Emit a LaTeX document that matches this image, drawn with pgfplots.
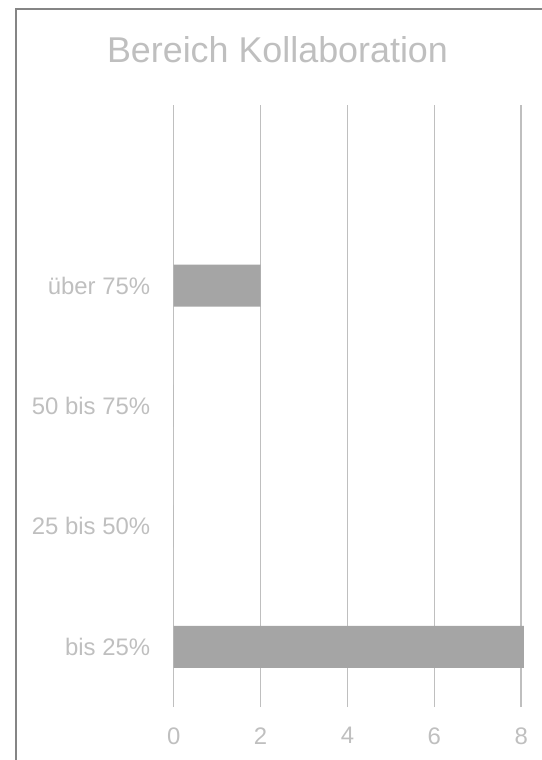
\documentclass[border=0pt]{standalone}
\usepackage{pgfplots}
\pgfplotsset{compat=1.18}
\usepackage{fontspec}
\setmainfont{Liberation Sans}
\definecolor{txt}{HTML}{BFBFBF}
\definecolor{grid}{HTML}{D9D9D9}
\definecolor{barc}{HTML}{A5A5A5}
\definecolor{frame}{HTML}{858585}
\begin{document}
\begin{tikzpicture}[x=1bp,y=1bp]
\begin{axis}[
  scale only axis,
  width=347.5bp, height=602bp,
  at={(173.7bp,53bp)}, anchor=south west,
  xbar, bar width=42bp,
  xmin=0, xmax=8, ymin=-0.5, ymax=4.5,
  xtick={0,2,4,6,8},
  ytick={0,1,2,3},
  yticklabels={bis 25\%,25 bis 50\%,50 bis 75\%,über 75\%},
  axis line style={draw=none},
  major tick length=0pt,
  xmajorgrids, major grid style={grid, line width=1.5bp},
  ymajorgrids=false,
  tick label style={font=\fontsize{24}{26}\selectfont, text=txt},
  /pgf/number format/assume math mode=true,
  xticklabel style={yshift=-17bp},
  yticklabel style={xshift=-20bp},
  clip=false,
]
\addplot[fill=barc, draw=none] coordinates {(8.06,0) (0,1) (0,2) (2,3)};
\end{axis}
\node[anchor=base, text=txt, font=\fontsize{36}{40}\selectfont] at (277.5bp,697bp) {Bereich Kollaboration};
\draw[frame, line width=2.2bp] (16bp,-5bp) -- (16bp,750.7bp) -- (560bp,750.7bp);
\pgfresetboundingbox
\useasboundingbox (0,0) rectangle (542bp,760bp);
\end{tikzpicture}
\end{document}
